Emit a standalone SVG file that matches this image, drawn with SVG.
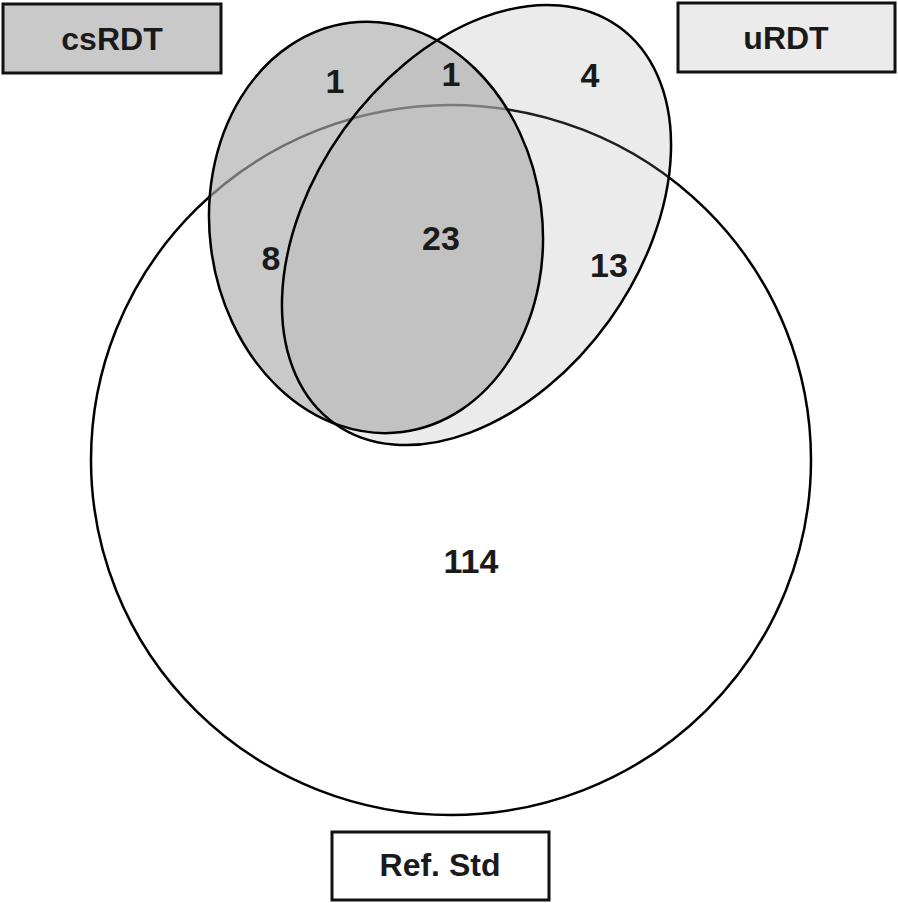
<svg xmlns="http://www.w3.org/2000/svg" width="898" height="903" viewBox="0 0 898 903">
<style>
.lbl{font-family:"Liberation Sans",Arial,sans-serif;font-weight:bold;font-size:32px;fill:#1a1a1a;text-anchor:middle}
.num{font-family:"Liberation Sans",Arial,sans-serif;font-weight:bold;font-size:34px;fill:#1a1a1a;text-anchor:middle}
.box{stroke:#111;stroke-width:3}
.edge{fill:none;stroke:#000;stroke-width:2.5}
</style>
<rect width="898" height="903" fill="#fff"/>
<g id="ref-std">
<ellipse cx="451" cy="460" rx="360" ry="355" fill="#fff" stroke="#000" stroke-width="2.5"/>
<rect class="box" x="332" y="832" width="217" height="68" fill="#fff"/>
<text class="lbl" x="440" y="876">Ref. Std</text>
</g>
<g id="urdt">
<ellipse cx="476.5" cy="225" rx="163.5" ry="244" transform="rotate(35.6 476.5 225)" fill="#9b9b9b" fill-opacity="0.2"/>
<rect class="box" x="678" y="3" width="217" height="69" fill="#ebebeb"/>
<text class="lbl" x="786" y="49">uRDT</text>
</g>
<g id="csrdt">
<ellipse cx="376" cy="227.4" rx="166.3" ry="206.3" transform="rotate(-7.3 376 227.4)" fill="#acacac" fill-opacity="0.65"/>
<rect class="box" x="3" y="4" width="218" height="69" fill="#c9c9c9"/>
<text class="lbl" x="112" y="50">csRDT</text>
</g>
<g id="outlines">
<ellipse class="edge" cx="476.5" cy="225" rx="163.5" ry="244" transform="rotate(35.6 476.5 225)"/>
<ellipse class="edge" cx="376" cy="227.4" rx="166.3" ry="206.3" transform="rotate(-7.3 376 227.4)"/>
</g>
<g id="counts">
<text class="num" x="335" y="93">1</text>
<text class="num" x="451" y="86">1</text>
<text class="num" x="590" y="87">4</text>
<text class="num" x="271" y="270">8</text>
<text class="num" x="441" y="250">23</text>
<text class="num" x="609" y="277">13</text>
<text class="num" x="471" y="573">114</text>
</g>
</svg>
